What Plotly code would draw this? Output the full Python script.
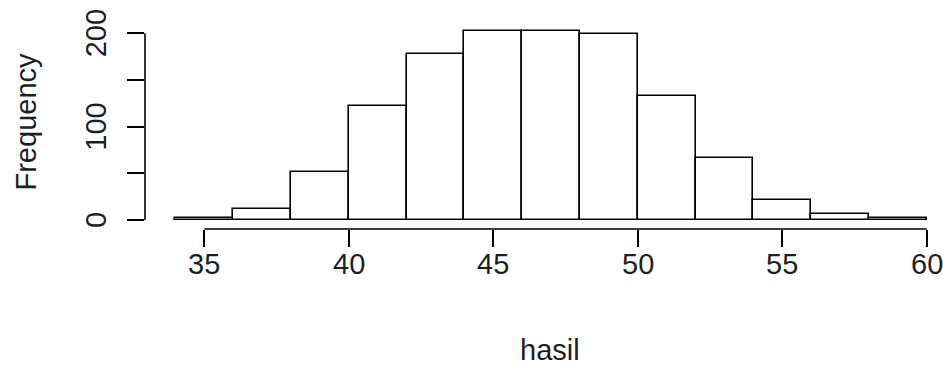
import plotly.graph_objects as go

# Histogram of "hasil": bin edges and frequencies
bin_edges = [34, 36, 38, 40, 42, 44, 46, 48, 50, 52, 54, 56, 58, 60]
counts = [2, 12, 51, 122, 178, 203, 203, 199, 133, 66, 21, 6, 2]
x_ticks = [35, 40, 45, 50, 55, 60]
y_ticks = [0, 50, 100, 150, 200]
y_labels = [0, 100, 200]

centers = [(a + b) / 2 for a, b in zip(bin_edges[:-1], bin_edges[1:])]
widths = [b - a for a, b in zip(bin_edges[:-1], bin_edges[1:])]

FONT = "Liberation Sans, Arial, sans-serif"
FS = 29
TXT = "#1e1e1e"
fig = go.Figure()
fig.add_trace(go.Bar(
    x=centers, y=counts, width=widths,
    marker=dict(color="white", line=dict(color="black", width=1.6)),
    showlegend=False, hoverinfo="skip", cliponaxis=False,
))

# R-style detached axis lines
fig.add_shape(type="line", xref="x", yref="paper", x0=x_ticks[0], x1=x_ticks[-1],
              y0=0, y1=0, line=dict(color="black", width=1.6))
fig.add_shape(type="line", xref="paper", yref="y", x0=0, x1=0,
              y0=y_ticks[0], y1=y_ticks[-1], line=dict(color="black", width=1.6))

annotations = []
for v in x_ticks:
    annotations.append(dict(text=str(v), xref="x", yref="paper", x=v, y=0,
                            yshift=-35, xanchor="center", yanchor="middle",
                            showarrow=False,
                            font=dict(size=FS, family=FONT, color=TXT)))
for v in y_labels:
    annotations.append(dict(text=str(v), xref="paper", yref="y", x=0, y=v,
                            xshift=-49, xanchor="center", yanchor="middle",
                            textangle=-90, showarrow=False,
                            font=dict(size=FS, family=FONT, color=TXT)))
annotations.append(dict(text="hasil", xref="paper", yref="paper", x=0.5127, y=0,
                        yshift=-121, xanchor="center", yanchor="middle",
                        showarrow=False,
                        font=dict(size=FS, family=FONT, color=TXT)))
annotations.append(dict(text="Frequency", xref="paper", yref="paper", x=0, y=0.5,
                        xshift=-120, yshift=-2, xanchor="center", yanchor="middle",
                        showarrow=False, textangle=-90,
                        font=dict(size=FS, family=FONT, color=TXT)))

fig.update_layout(
    width=943, height=381,
    margin=dict(l=145, r=8, t=10, b=152, autoexpand=False),
    plot_bgcolor="white", paper_bgcolor="white",
    font=dict(family=FONT, size=FS, color=TXT),
    bargap=0,
    xaxis=dict(range=[32.948, 60.287], tickvals=x_ticks, ticks="outside",
               ticklen=17, tickwidth=1.6, tickcolor="black", showline=False,
               showgrid=False, zeroline=False, showticklabels=False,
               automargin=False),
    yaxis=dict(range=[-9.64, 225.0], tickvals=y_ticks,
               ticks="outside", ticklen=17, tickwidth=1.6, tickcolor="black",
               showline=False, showgrid=False, zeroline=False,
               showticklabels=False, automargin=False),
    annotations=annotations,
)
fig.write_html("out.html",
               config={"displayModeBar": False},
               post_script="document.body.style.margin='0';"
                           "document.body.style.overflow='hidden';")
